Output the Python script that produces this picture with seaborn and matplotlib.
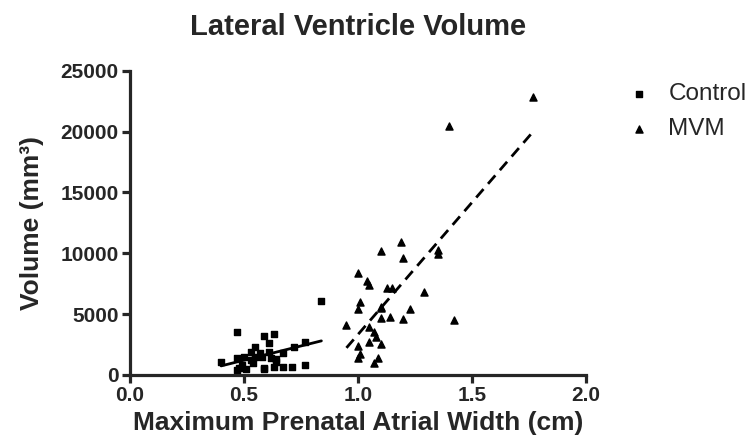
import matplotlib
matplotlib.use('Agg')
import matplotlib.pyplot as plt
import pandas as pd
import seaborn as sns

# values
ctrl_x = [0.40, 0.47, 0.47, 0.50, 0.53, 0.55, 0.57, 0.59, 0.61, 0.61, 0.63, 0.64,
          0.67, 0.72, 0.77, 0.84, 0.59, 0.63, 0.55, 0.49, 0.51, 0.53, 0.58, 0.62,
          0.64, 0.67, 0.71, 0.77, 0.47, 0.59, 0.54, 0.48]
ctrl_y = [1100, 3550, 1370, 1500, 1900, 2280, 1780, 3200, 2600, 1920, 3370, 1100,
          1780, 2330, 2740, 6100, 470, 630, 1500, 820, 470, 1230, 1500, 1400,
          1300, 680, 630, 820, 410, 570, 950, 570]

mvm_x = [0.95, 1.00, 1.00, 1.00, 1.01, 1.01, 1.04, 1.05, 1.05, 1.05, 1.07, 1.07,
         1.08, 1.09, 1.10, 1.10, 1.10, 1.10, 1.10, 1.14, 1.13, 1.15, 1.19, 1.20,
         1.20, 1.23, 1.29, 1.35, 1.35, 1.40, 1.42, 1.77, 1.00]
mvm_y = [4100, 2380, 1370, 5430, 1730, 6030, 7750, 7400, 3970, 2740, 3560, 1010,
         3100, 1370, 2550, 4710, 5490, 5600, 10200, 4800, 7130, 7130, 10900, 9600,
         4580, 5430, 6850, 10280, 9950, 20500, 4500, 22840, 8360]

ctrl = pd.DataFrame({'width': ctrl_x, 'volume': ctrl_y})
mvm = pd.DataFrame({'width': mvm_x, 'volume': mvm_y})

sns.set_style('ticks')
plt.rcParams['font.family'] = ['Liberation Sans', 'DejaVu Sans']

fig, ax = plt.subplots(figsize=(7.51, 4.48), dpi=100)
fig.subplots_adjust(left=0.173, right=0.780, bottom=0.163, top=0.842)

sns.regplot(data=ctrl, x='width', y='volume', ax=ax, ci=None, color='black',
            marker='s', label='Control', scatter_kws={'s': 22, 'alpha': 1},
            line_kws={'lw': 2})
sns.regplot(data=mvm, x='width', y='volume', ax=ax, ci=None, color='black',
            marker='^', label='MVM', scatter_kws={'s': 26, 'alpha': 1},
            line_kws={'lw': 2, 'ls': (0, (4, 2.5))})

ax.set_xlim(0, 2.0)
ax.set_ylim(0, 25000)
ax.set_xticks([0.0, 0.5, 1.0, 1.5, 2.0])
ax.set_xticklabels(['0.0', '0.5', '1.0', '1.5', '2.0'])
ax.set_yticks([0, 5000, 10000, 15000, 20000, 25000])
sns.despine(ax=ax)
for sp in ['left', 'bottom']:
    ax.spines[sp].set_linewidth(2.3)
ax.tick_params(width=2.3, length=6, labelsize=15, pad=2)
for lab in ax.get_xticklabels() + ax.get_yticklabels():
    lab.set_fontweight('bold')

ax.set_xlabel('Maximum Prenatal Atrial Width (cm)', fontsize=19, fontweight='bold', labelpad=4)
ax.set_ylabel('Volume (mm³)', fontsize=19, fontweight='bold', labelpad=12)
ax.set_title('Lateral Ventricle Volume', fontsize=21, fontweight='bold', pad=26)

ax.legend(loc='upper left', bbox_to_anchor=(0.835, 0.815), bbox_transform=fig.transFigure,
          frameon=False, fontsize=17.5, handlelength=1.0, handletextpad=0.7,
          labelspacing=0.55, borderaxespad=0, borderpad=0)

fig.savefig('out.png', dpi=100)
